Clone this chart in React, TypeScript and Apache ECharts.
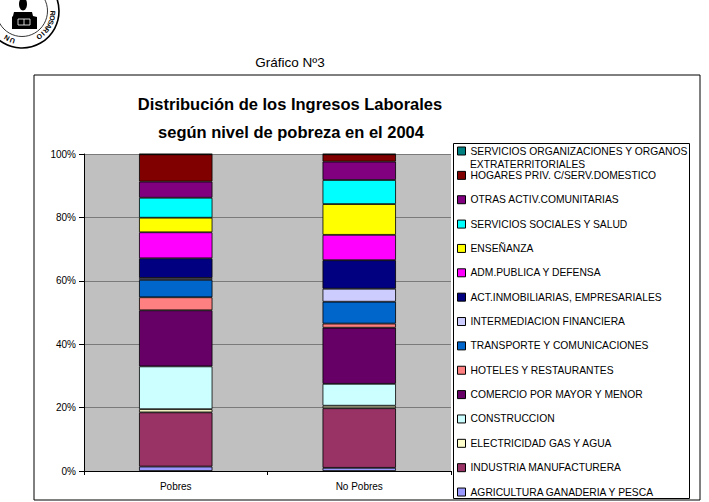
import React, { useEffect, useRef } from "react";
import * as echarts from "echarts";

const categories = ["Pobres", "No Pobres"];

// stack order: bottom -> top
const seriesNames = [
  "AGRICULTURA GANADERIA Y PESCA",
  "INDUSTRIA MANUFACTURERA",
  "ELECTRICIDAD GAS Y AGUA",
  "CONSTRUCCION",
  "COMERCIO POR MAYOR Y MENOR",
  "HOTELES Y RESTAURANTES",
  "TRANSPORTE Y COMUNICACIONES",
  "INTERMEDIACION FINANCIERA",
  "ACT.INMOBILIARIAS, EMPRESARIALES",
  "ADM.PUBLICA Y DEFENSA",
  "ENSEÑANZA",
  "SERVICIOS SOCIALES Y SALUD",
  "OTRAS ACTIV.COMUNITARIAS",
  "HOGARES PRIV. C/SERV.DOMESTICO",
  "SERVICIOS ORGANIZACIONES Y ORGANOS EXTRATERRITORIALES",
];

const pobresValues = [1.4, 17.1, 1.0, 13.5, 17.7, 4.1, 5.5, 0.6, 6.2, 8.2, 4.6, 6.3, 5.1, 8.6, 0.1];
const noPobresValues = [1.0, 18.8, 0.8, 6.9, 17.7, 1.3, 6.9, 4.1, 9.0, 8.0, 9.7, 7.6, 5.8, 2.3, 0.1];

const seriesColors = [
  "#9999FF",
  "#993366",
  "#FFFFCC",
  "#CCFFFF",
  "#660066",
  "#FF8080",
  "#0066CC",
  "#CCCCFF",
  "#000080",
  "#FF00FF",
  "#FFFF00",
  "#00FFFF",
  "#800080",
  "#800000",
  "#008080",
];

const yTicks = [0, 20, 40, 60, 80, 100];

const FONT = "'Liberation Sans', Arial, Helvetica, sans-serif";

const logoFirst = "UNIVERSIDAD NACIONAL";
const logoSecond = "DE ROSARIO";

function buildLogo() {
  const cx = 22;
  const cy = 11;
  const r = 31;
  const children: any[] = [];
  children.push({
    type: "circle",
    shape: { cx, cy, r: 37 },
    style: { fill: "none", stroke: "#000", lineWidth: 1.6 },
  });
  children.push({
    type: "circle",
    shape: { cx, cy, r: 25.5 },
    style: { fill: "none", stroke: "#000", lineWidth: 0.8 },
  });
  const place = (str: string, start: number, step: number) => {
    for (let i = 0; i < str.length; i++) {
      const ch = str[i];
      if (ch === " ") continue;
      const deg = start + i * step;
      const t = (deg * Math.PI) / 180;
      const x = cx + r * Math.cos(t);
      const y = cy + r * Math.sin(t);
      // only the letters that lie within the page are drawn
      if (x < 5 || y < 5) continue;
      children.push({
        type: "text",
        x,
        y,
        rotation: -((deg + 90) * Math.PI) / 180,
        style: {
          text: ch,
          font: `bold 7px ${FONT}`,
          fill: "#000",
          textAlign: "center",
          textVerticalAlign: "middle",
        },
      });
    }
  };
  place(logoFirst, 108, 11.5);
  place(logoSecond, 338.4, 8.6);
  // emblem
  children.push({
    type: "ellipse",
    shape: { cx: 23, cy: 4, rx: 4, ry: 6.5 },
    style: { fill: "#000" },
  });
  children.push({
    type: "polygon",
    shape: {
      points: [
        [14, 12],
        [32, 12],
        [33, 16],
        [37, 17],
        [37, 29],
        [12, 29],
        [12, 17],
        [13, 16],
      ],
    },
    style: { fill: "#000" },
  });
  children.push({
    type: "rect",
    shape: { x: 18, y: 19, width: 12, height: 6 },
    style: { fill: "none", stroke: "#fff", lineWidth: 0.8 },
  });
  children.push({
    type: "line",
    shape: { x1: 24, y1: 19, x2: 24, y2: 25 },
    style: { stroke: "#fff", lineWidth: 0.8 },
  });
  return { type: "group", children, silent: true };
}

export default function App() {
  const ref = useRef<HTMLDivElement>(null);

  useEffect(() => {
    if (!ref.current) return;
    const chart = echarts.init(ref.current, null, { renderer: "svg" });

    const series = seriesNames.map((name, i) => ({
      name,
      type: "bar",
      stack: "total",
      barWidth: "40%",
      data: [pobresValues[i], noPobresValues[i]],
      itemStyle: {
        color: seriesColors[i],
        borderColor: "#000",
        borderWidth: 0.8,
      },
      emphasis: { disabled: true },
    }));

    chart.setOption({
      animation: false,
      backgroundColor: "#fff",
      grid: {
        left: 84,
        top: 154,
        width: 367,
        height: 317,
        show: true,
        backgroundColor: "#C0C0C0",
        borderWidth: 0,
        containLabel: false,
      },
      xAxis: {
        type: "category",
        data: categories,
        axisLine: { show: true, lineStyle: { color: "#000", width: 1 } },
        axisTick: { show: true, length: 4, lineStyle: { color: "#000" } },
        axisLabel: { color: "#000", fontSize: 10, fontFamily: FONT, margin: 10 },
      },
      yAxis: {
        type: "value",
        min: yTicks[0],
        max: yTicks[yTicks.length - 1],
        interval: 20,
        axisLine: { show: true, lineStyle: { color: "#000", width: 1 } },
        axisTick: { show: true, length: 5, lineStyle: { color: "#000" } },
        axisLabel: {
          color: "#000",
          fontSize: 10,
          fontFamily: FONT,
          margin: 8,
          formatter: "{value}%",
        },
        splitLine: { show: true, lineStyle: { color: "#7a7a7a", width: 1 } },
      },
      legend: {
        orient: "vertical",
        left: 457,
        top: 144,
        padding: 0,
        itemWidth: 8,
        itemHeight: 8,
        itemGap: 10.36,
        icon: "rect",
        selectedMode: false,
        data: [...seriesNames].reverse(),
        itemStyle: { borderColor: "#000", borderWidth: 1 },
        textStyle: {
          color: "#000",
          fontSize: 10.3,
          fontFamily: FONT,
          lineHeight: 14,
        },
        formatter: (name: string) =>
          name === seriesNames[seriesNames.length - 1]
            ? "SERVICIOS ORGANIZACIONES Y ORGANOS"
            : name,
      },
      graphic: [
        buildLogo(),
        {
          type: "text",
          x: 290,
          y: 62,
          style: {
            text: "Gráfico Nº3",
            font: `13.5px ${FONT}`,
            fill: "#000",
            textAlign: "center",
            textVerticalAlign: "middle",
          },
        },
        {
          type: "rect",
          shape: { x: 34, y: 75, width: 666, height: 425 },
          style: { fill: "none", stroke: "#000", lineWidth: 1 },
          silent: true,
        },
        {
          type: "text",
          x: 290,
          y: 104,
          style: {
            text: "Distribución de los Ingresos Laborales",
            font: `bold 16.5px ${FONT}`,
            fill: "#000",
            textAlign: "center",
            textVerticalAlign: "middle",
          },
        },
        {
          type: "text",
          x: 291,
          y: 131.5,
          style: {
            text: "según nivel de pobreza en el 2004",
            font: `bold 16.5px ${FONT}`,
            fill: "#000",
            textAlign: "center",
            textVerticalAlign: "middle",
          },
        },
        {
          type: "rect",
          shape: { x: 453.5, y: 143.5, width: 236, height: 355 },
          style: { fill: "none", stroke: "#000", lineWidth: 1 },
          silent: true,
        },
        {
          type: "text",
          x: 470,
          y: 164,
          style: {
            text: "EXTRATERRITORIALES",
            font: `10.3px ${FONT}`,
            fill: "#000",
            textAlign: "left",
            textVerticalAlign: "middle",
          },
        },
      ],
      series,
    });

    return () => {
      chart.dispose();
    };
  }, []);

  return (
    <div
      ref={ref}
      style={{ position: "fixed", left: 0, top: 0, width: 709, height: 502 }}
    />
  );
}
